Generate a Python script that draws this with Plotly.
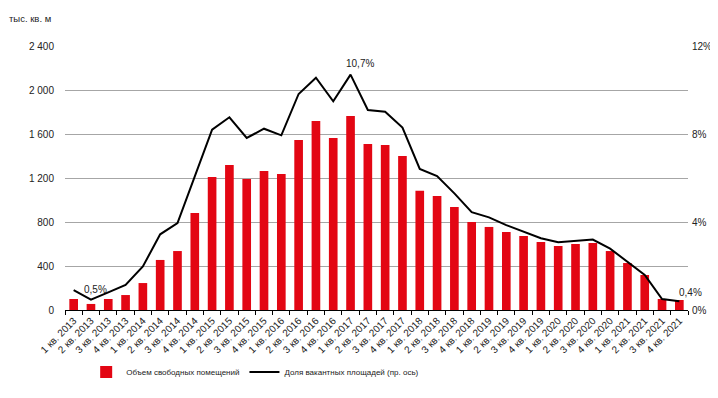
import plotly.graph_objects as go

quarters = [f"{q} кв. {y}" for y in range(2013, 2022) for q in range(1, 5)]

vacant_volume = [100, 55, 100, 136, 245, 455, 536, 882, 1209, 1318,
                 1191, 1264, 1236, 1545, 1718, 1564, 1764, 1509, 1500, 1400,
                 1085, 1036, 936, 800, 755, 709, 673, 618, 582, 600,
                 609, 536, 427, 318, 100, 91]

vacancy_rate = [0.9, 0.47, 0.8, 1.14, 1.98, 3.44, 3.95, 6.1, 8.2, 8.76,
                7.82, 8.24, 7.94, 9.82, 10.56, 9.49, 10.7, 9.09, 9.01, 8.29,
                6.41, 6.09, 5.3, 4.45, 4.21, 3.86, 3.56, 3.26, 3.08, 3.14,
                3.2, 2.79, 2.2, 1.59, 0.5, 0.4]

left_ticks = [0, 400, 800, 1200, 1600, 2000, 2400]
left_tick_text = ["0", "400", "800", "1 200", "1 600", "2 000", "2 400"]
right_ticks = [0, 4, 8, 12]
right_tick_text = ["0%", "4%", "8%", "12%"]

# (index, text, xshift, yshift, xanchor)
labels = [(1, "0,5%", 5, 3, "center"), (16, "10,7%", 9, 4, "center"), (35, "0,4%", -2, 1, "left")]

FONT = "Liberation Sans, Arial, sans-serif"
RED = "#E30613"

fig = go.Figure()
fig.add_trace(go.Bar(x=quarters, y=vacant_volume, name="Объем свободных помещений",
                     marker=dict(color=RED, line=dict(width=0))))
fig.add_trace(go.Scatter(x=quarters, y=vacancy_rate, name="Доля вакантных площадей (пр. ось)",
                         mode="lines", yaxis="y2", line=dict(color="black", width=2)))

for idx, txt, xs, ys, xa in labels:
    fig.add_annotation(x=quarters[idx], y=vacancy_rate[idx], xref="x", yref="y2",
                       text=txt, showarrow=False, xanchor=xa, yanchor="bottom",
                       xshift=xs, yshift=ys, font=dict(size=10, color="#222"))

fig.add_annotation(x=0, y=1, xref="paper", yref="paper", text="тыс. кв. м",
                   showarrow=False, xanchor="left", yanchor="middle",
                   xshift=-58, yshift=28, font=dict(size=9.5, color="#222"))

fig.update_layout(
    width=710, height=390,
    margin=dict(l=57, r=30, t=38, b=88),
    paper_bgcolor="white", plot_bgcolor="white",
    font=dict(family=FONT, size=10, color="#222"),
    bargap=0.5,
    showlegend=True,
    legend=dict(orientation="h", x=0.034, xanchor="left", y=-0.235, yanchor="middle",
                font=dict(size=8, color="#222"), traceorder="normal", itemwidth=30),
    xaxis=dict(type="category", range=[-0.5, len(quarters) - 0.5], tickangle=-45, showgrid=False,
               showline=True, linecolor="black", linewidth=1,
               ticks="outside", tickson="boundaries", ticklen=4, tickcolor="black",
               tickfont=dict(size=10), automargin=False),
    yaxis=dict(range=[0, 2400], tickvals=left_ticks, ticktext=left_tick_text,
               showgrid=True, gridcolor="#A6A6A6", gridwidth=1, zeroline=False,
               showline=False, ticks="", ticklabelstandoff=10, automargin=False),
    yaxis2=dict(range=[0, 12], tickvals=right_ticks, ticktext=right_tick_text,
                overlaying="y", side="right", showgrid=False, zeroline=False,
                showline=False, ticks="", ticklabelstandoff=3, automargin=False),
)

fig.write_html("out.html")
